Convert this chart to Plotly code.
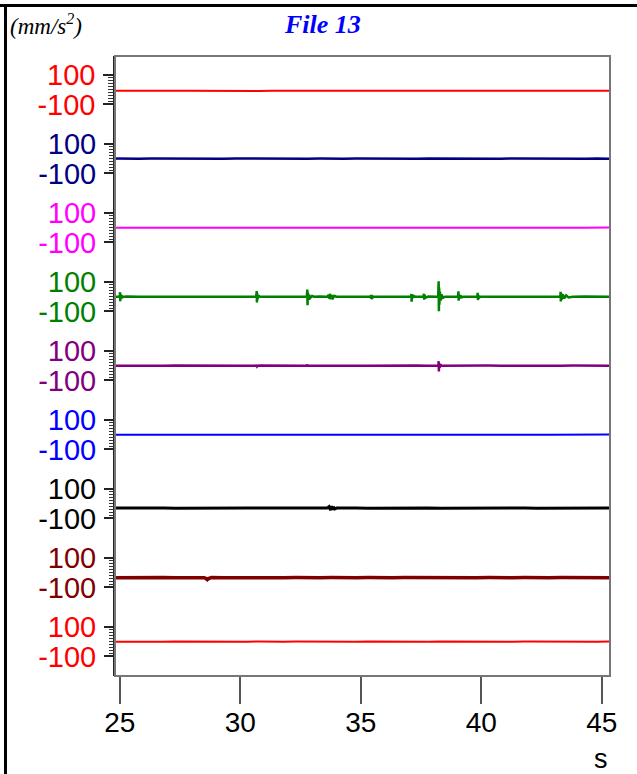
import plotly.graph_objects as go

# ---------------- data ----------------
channel_colors = ["#ff0000", "#000080", "#ff00ff", "#008000", "#800080",
                  "#0000ff", "#000000", "#800000", "#ff0000"]

t_base = [24.8, 25.3, 25.8, 26.3, 26.8, 27.3, 27.8, 28.3, 28.8, 29.3, 29.8,
          30.3, 30.8, 31.3, 31.8, 32.3, 32.8, 33.3, 33.8, 34.3, 34.8, 35.3,
          35.8, 36.3, 36.8, 37.3, 37.8, 38.3, 38.8, 39.3, 39.8, 40.3, 40.8,
          41.3, 41.8, 42.3, 42.8, 43.3, 43.8, 44.3, 44.8, 45.3]

ch1_v = [-8, -7, -8, -9, -8, -7, -8, -9, -8, -8, -7, -8, -9, -8, -7, -8,
         -8, -9, -7, -8, -8, -7, -9, -8, -8, -7, -8, -7, -9, -8, -8, -7,
         -8, -9, -8, -8, -7, -8, -8, -9, -8, -7]
ch2_v = [1, -1, 0, 1, 0, -1, 1, 0, -1, 0, 1, 0, -1, 1, 0, -1, 0, 1, -1, 0,
         1, 0, -1, 1, 0, -1, 1, 0, -1, 0, 1, -1, 0, 1, 0, -1, 1, 0, -1, 0,
         1, 0]
ch3_v = [0, 1, -1, 0, 1, 0, -1, 1, 0, -1, 0, 1, -1, 0, 1, 0, -1, 0, 1, -1,
         0, 1, 0, -1, 1, 0, -1, 0, 1, -1, 0, 1, 0, -1, 1, 0, -1, 1, 0, -1,
         0, 1]
ch4_v = [0, 1, -1, 0, 1, -1, 0, 1, 0, -1, 1, 0, -1, 0, 1, -1, 0, 1, -1, 0,
         1, 0, -1, 1, 0, -1, 1, 0, -1, 0, 1, -1, 0, 1, -1, 0, 1, 0, -1, 1,
         0, 0]
ch5_v = [0, -1, 1, 0, -1, 1, 0, -1, 0, 1, -1, 0, 1, 0, -1, 1, 0, -1, 1, 0,
         -1, 0, 1, -1, 0, 1, -1, 0, 1, 0, -1, 1, 0, -1, 0, 1, -1, 0, 1, 0,
         -1, 0]
ch6_v = [0, 1, 0, -1, 1, 0, -1, 0, 1, -1, 0, 1, 0, -1, 1, 0, -1, 1, 0, -1,
         0, 1, -1, 0, 1, 0, -1, 1, 0, -1, 0, 1, -1, 0, 1, 0, -1, 0, 1, -1,
         0, 1]
ch7_v = [-30, -29, -31, -30, -29, -31, -30, -32, -29, -30, -31, -29, -30, -31,
         -30, -29, -31, -30, -32, -29, -30, -31, -30, -29, -31, -30, -29, -31,
         -30, -32, -29, -30, -31, -30, -29, -31, -30, -29, -31, -30, -29, -30]
ch8_v = [-34, -33, -35, -34, -33, -35, -34, -35, -33, -34, -35, -33, -34, -35,
         -34, -33, -35, -34, -33, -35, -34, -33, -35, -34, -33, -34, -35, -33,
         -34, -35, -34, -33, -35, -34, -33, -35, -34, -33, -34, -35, -33, -34]
ch9_v = [0, -1, 1, 0, -1, 1, 0, -1, 1, 0, -1, 0, 1, -1, 0, 1, 0, -1, 2, 0,
         -1, 1, 0, -1, 1, 0, -1, 1, 0, -1, 0, 1, -1, 0, 1, 0, -1, 1, 0, -1,
         0, 1]

# green channel events (s, mm/s^2)
ch4_evt_t = [24.99, 25.00, 25.01, 25.02, 25.03, 25.05, 25.08, 25.12, 25.18,
             30.66, 30.67, 30.68, 30.69, 30.70, 30.72, 30.75, 30.80, 30.86,
             32.76, 32.77, 32.78, 32.79, 32.80, 32.82, 32.85, 32.90, 32.98, 33.05,
             33.62, 33.66, 33.70, 33.72, 33.75, 33.79, 33.84, 33.90, 33.98,
             35.40, 35.42, 35.43, 35.45, 35.48, 35.53,
             37.08, 37.09, 37.10, 37.11, 37.12, 37.15, 37.19, 37.25,
             37.60, 37.61, 37.62, 37.63, 37.65, 37.69, 37.74,
             38.21, 38.22, 38.23, 38.24, 38.25, 38.26, 38.28, 38.31, 38.35, 38.41, 38.50,
             39.03, 39.04, 39.05, 39.06, 39.07, 39.09, 39.13, 39.19, 39.26,
             39.83, 39.84, 39.85, 39.86, 39.87, 39.90, 39.95,
             43.27, 43.28, 43.29, 43.30, 43.31, 43.34, 43.38, 43.44, 43.52, 43.62, 43.72]
ch4_evt_v = [0, 12, 31, -31, 18, -12, 7, -4, 0,
             0, 15, 39, -39, 22, -15, 9, -5, 0,
             0, 20, 49, -59, 30, -22, 14, -9, 5, 0,
             0, 12, -14, 20, -18, 13, -10, 6, 0,
             0, 10, -15, 12, -7, 0,
             0, 9, 19, -35, 14, -9, 5, 0,
             0, 10, 20, -20, 11, -6, 0,
             0, 40, 106, -99, 62, -55, 34, -26, 15, -8, 0,
             0, 15, 37, -28, 20, -14, 8, -4, 0,
             0, 11, 26, -23, 12, -7, 0,
             0, 14, 33, -33, 24, -20, 16, -12, 9, -5, 0]

# purple channel events
ch5_evt_t = [30.66, 30.68, 30.70, 30.73, 32.76, 32.78, 32.80, 32.83,
             38.21, 38.22, 38.23, 38.24, 38.25, 38.27, 38.31, 38.37]
ch5_evt_v = [0, 6, -5, 0, 0, 8, -6, 0,
             0, 12, 31, -40, 18, -12, 6, 0]

# black channel events
ch7_evt_t = [33.60, 33.68, 33.74, 33.78, 33.82, 33.86, 33.92, 34.00]
ch7_evt_v = [-30, -20, -44, -16, -42, -22, -36, -30]

# dark red channel events
ch8_evt_t = [28.50, 28.58, 28.63, 28.68, 28.76]
ch8_evt_v = [-34, -40, -47, -40, -34]

tick_vals_x = [25, 30, 35, 40, 45]
tick_vals_y = [-100, 100]
tick_text_y = ["-100", "100"]
minor_vals_y = [-80, -60, -40, -20, 0, 20, 40, 60, 80]


def merge(tb, vb, te, ve):
    pts = sorted(list(zip(tb, vb)) + list(zip(te, ve)))
    return [p[0] for p in pts], [p[1] for p in pts]


series = [
    (t_base, ch1_v),
    (t_base, ch2_v),
    (t_base, ch3_v),
    merge(t_base, ch4_v, ch4_evt_t, ch4_evt_v),
    merge(t_base, ch5_v, ch5_evt_t, ch5_evt_v),
    (t_base, ch6_v),
    merge(t_base, ch7_v, ch7_evt_t, ch7_evt_v),
    merge(t_base, ch8_v, ch8_evt_t, ch8_evt_v),
    (t_base, ch9_v),
]

# ---------------- layout geometry (pixels) ----------------
W, H = 637, 774
L, R, T, B = 115, 610, 56, 676          # plot box
PX_PER_UNIT = 0.1465
first_zero, step = 89.7, 69.0
line_widths = [2, 2.5, 2, 2.5, 2.5, 2, 3, 3.5, 2]


def px2x(px):
    return (px - L) / (R - L)


def py2y(py):
    return (B - py) / (B - T)


fig = go.Figure()
for i, (tt, vv) in enumerate(series):
    yname = "y" if i == 0 else f"y{i+1}"
    fig.add_trace(go.Scatter(x=tt, y=vv, mode="lines", yaxis=yname,
                             line=dict(color=channel_colors[i], width=line_widths[i]),
                             showlegend=False, hoverinfo="skip"))

layout_axes = {}
for i in range(9):
    c = first_zero + step * i
    top_val = (c - T) / PX_PER_UNIT
    bot_val = -(B - c) / PX_PER_UNIT
    ax = dict(
        domain=[0, 1], range=[bot_val, top_val],
        tickvals=tick_vals_y, ticktext=tick_text_y,
        ticks="outside", ticklen=10, tickwidth=1.5, tickcolor="#222",
        tickfont=dict(family="Liberation Sans, Arial", size=29, color=channel_colors[i]),
        ticklabelstandoff=2,
        minor=dict(tickvals=minor_vals_y, ticks="outside", ticklen=5,
                   tickwidth=1, tickcolor="#333"),
        showgrid=False, zeroline=False, showline=(i == 0),
        linecolor="#222", linewidth=1.5, anchor="x", side="left",
        fixedrange=True,
    )
    if i > 0:
        ax["overlaying"] = "y"
    layout_axes["yaxis" if i == 0 else f"yaxis{i+1}"] = ax

fig.update_layout(
    width=W, height=H,
    margin=dict(l=L, r=W - R, t=T, b=H - B, pad=0),
    paper_bgcolor="white", plot_bgcolor="white",
    xaxis=dict(range=[24.8, 45.34], tickvals=tick_vals_x,
               ticks="outside", ticklen=27, tickwidth=1.5, tickcolor="#555",
               tickfont=dict(family="Liberation Sans, Arial", size=28, color="black"),
               ticklabelstandoff=-6,
               showgrid=False, zeroline=False, showline=False, fixedrange=True),
    **layout_axes,
)

# plot box
fig.add_shape(type="rect", xref="paper", yref="paper", x0=0, x1=1, y0=0, y1=1,
              line=dict(color="#777", width=2), layer="above")
# outer frame (top and left)
fig.add_shape(type="line", xref="paper", yref="paper",
              x0=px2x(0), x1=px2x(W), y0=py2y(5.5), y1=py2y(5.5),
              line=dict(color="black", width=3))
fig.add_shape(type="line", xref="paper", yref="paper",
              x0=px2x(5.5), x1=px2x(5.5), y0=py2y(4), y1=py2y(H),
              line=dict(color="black", width=3))

fig.add_annotation(text="<b><i>File 13</i></b>", xref="paper", yref="paper",
                   x=px2x(322), y=py2y(24), xanchor="center", yanchor="middle",
                   showarrow=False,
                   font=dict(family="Liberation Serif, Times New Roman", size=26, color="#0000ff"))
fig.add_annotation(text="<i>(mm/s<sup>2</sup>)</i>", xref="paper", yref="paper",
                   x=px2x(8), y=py2y(24), xanchor="left", yanchor="middle",
                   showarrow=False,
                   font=dict(family="Liberation Serif, Times New Roman", size=23, color="black"))
fig.add_annotation(text="s", xref="paper", yref="paper",
                   x=px2x(601), y=py2y(759), xanchor="center", yanchor="middle",
                   showarrow=False,
                   font=dict(family="Liberation Sans, Arial", size=27, color="black"))

fig.write_html("out.html",
               config={"displayModeBar": False},
               post_script="document.body.style.margin='0';"
                           "document.body.style.overflow='hidden';")
